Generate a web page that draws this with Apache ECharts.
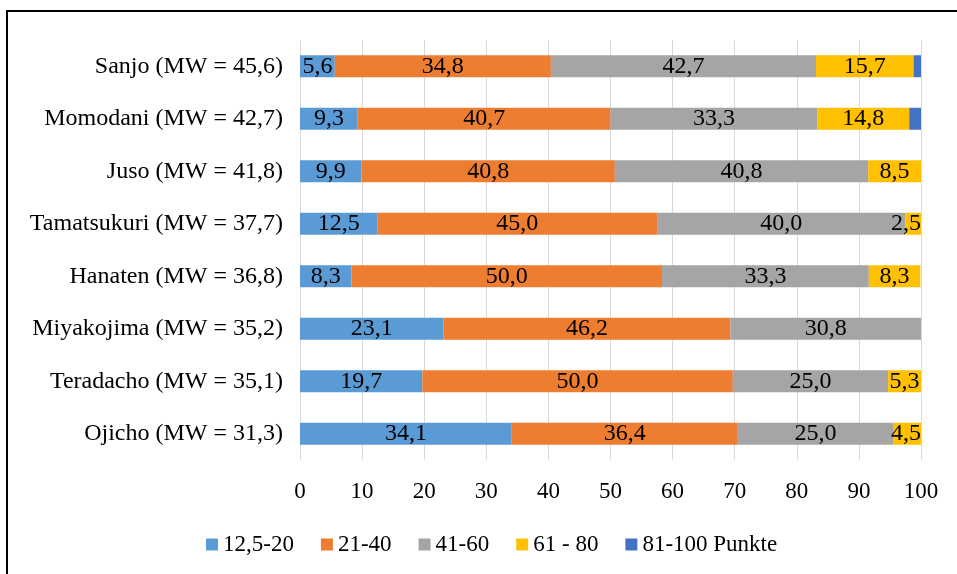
<!DOCTYPE html>
<html>
<head>
<meta charset="utf-8">
<script src="https://cdn.jsdelivr.net/npm/echarts@6/dist/echarts.min.js"></script>
<style>
  html, body { margin: 0; padding: 0; background: #fff; }
  #chart { width: 957px; height: 574px; }
</style>
</head>
<body>
<div id="chart"></div>
<script>
// Districts, top to bottom, with mean score (MW)
const categories = [
  'Sanjo (MW = 45,6)',
  'Momodani (MW = 42,7)',
  'Juso (MW = 41,8)',
  'Tamatsukuri (MW = 37,7)',
  'Hanaten (MW = 36,8)',
  'Miyakojima (MW = 35,2)',
  'Teradacho (MW = 35,1)',
  'Ojicho (MW = 31,3)'
];

// Share (%) per score band
const band1 = [5.6, 9.3, 9.9, 12.5, 8.3, 23.1, 19.7, 34.1];   // 12,5-20
const band2 = [34.8, 40.7, 40.8, 45.0, 50.0, 46.2, 50.0, 36.4]; // 21-40
const band3 = [42.7, 33.3, 40.8, 40.0, 33.3, 30.8, 25.0, 25.0]; // 41-60
const band4 = [15.7, 14.8, 8.5, 2.5, 8.3, 0, 5.3, 4.5];         // 61 - 80
const band5 = [1.2, 1.9, 0, 0, 0, 0, 0, 0];                     // 81-100 Punkte

const seriesNames = ['12,5-20', '21-40', '41-60', '61 - 80', '81-100 Punkte'];
const colors = ['#5B9BD5', '#ED7D31', '#A5A5A5', '#FFC000', '#4472C4'];

const FONT = '"Liberation Serif", "Times New Roman", serif';
const GRID_LEFT = 300, GRID_RIGHT = 36;
const PLOT_RIGHT = 957 - GRID_RIGHT;

function fmt(v) {
  return v > 0 ? v.toFixed(1).replace('.', ',') : '';
}

// nudge value labels back inside the plot on the right-hand side
function keepInside(p) {
  const r = p.labelRect;
  const over = r.x + r.width - PLOT_RIGHT;
  if (over > 0) {
    return { dx: -over };
  }
}

const bands = [band1, band2, band3, band4, band5];
const series = bands.map((data, i) => ({
  name: seriesNames[i],
  type: 'bar',
  stack: 'total',
  barWidth: 22,
  data: data,
  itemStyle: { color: colors[i] },
  label: {
    show: i < 4,
    position: 'inside',
    color: '#000',
    fontFamily: FONT,
    fontSize: 24,
    formatter: p => fmt(p.value)
  },
  labelLayout: keepInside,
  emphasis: { disabled: true }
}));

const chart = echarts.init(document.getElementById('chart'), null, { renderer: 'canvas' });
chart.setOption({
  animation: false,
  backgroundColor: '#fff',
  textStyle: { fontFamily: FONT },
  grid: { left: GRID_LEFT, right: GRID_RIGHT, top: 40, height: 420, containLabel: false },
  xAxis: {
    type: 'value',
    min: 0,
    max: 100,
    interval: 10,
    axisLine: { show: false },
    axisTick: { show: false },
    splitLine: { show: true, lineStyle: { color: '#d9d9d9', width: 1 } },
    axisLabel: { color: '#000', fontFamily: FONT, fontSize: 23, margin: 20 }
  },
  yAxis: {
    type: 'category',
    data: categories,
    inverse: true,
    axisLine: { show: false },
    axisTick: { show: false },
    axisLabel: { color: '#000', fontFamily: FONT, fontSize: 24, margin: 17 }
  },
  legend: {
    top: 528,
    left: 201,
    itemWidth: 12,
    itemHeight: 12,
    itemGap: 27,
    icon: 'rect',
    textStyle: { color: '#000', fontFamily: FONT, fontSize: 23 },
    data: seriesNames
  },
  graphic: [
    { type: 'line', shape: { x1: 6, y1: 11, x2: 957, y2: 11 }, style: { stroke: '#000', lineWidth: 2 } },
    { type: 'line', shape: { x1: 7, y1: 10, x2: 7, y2: 574 }, style: { stroke: '#000', lineWidth: 2 } }
  ],
  series: series
});
</script>
</body>
</html>
